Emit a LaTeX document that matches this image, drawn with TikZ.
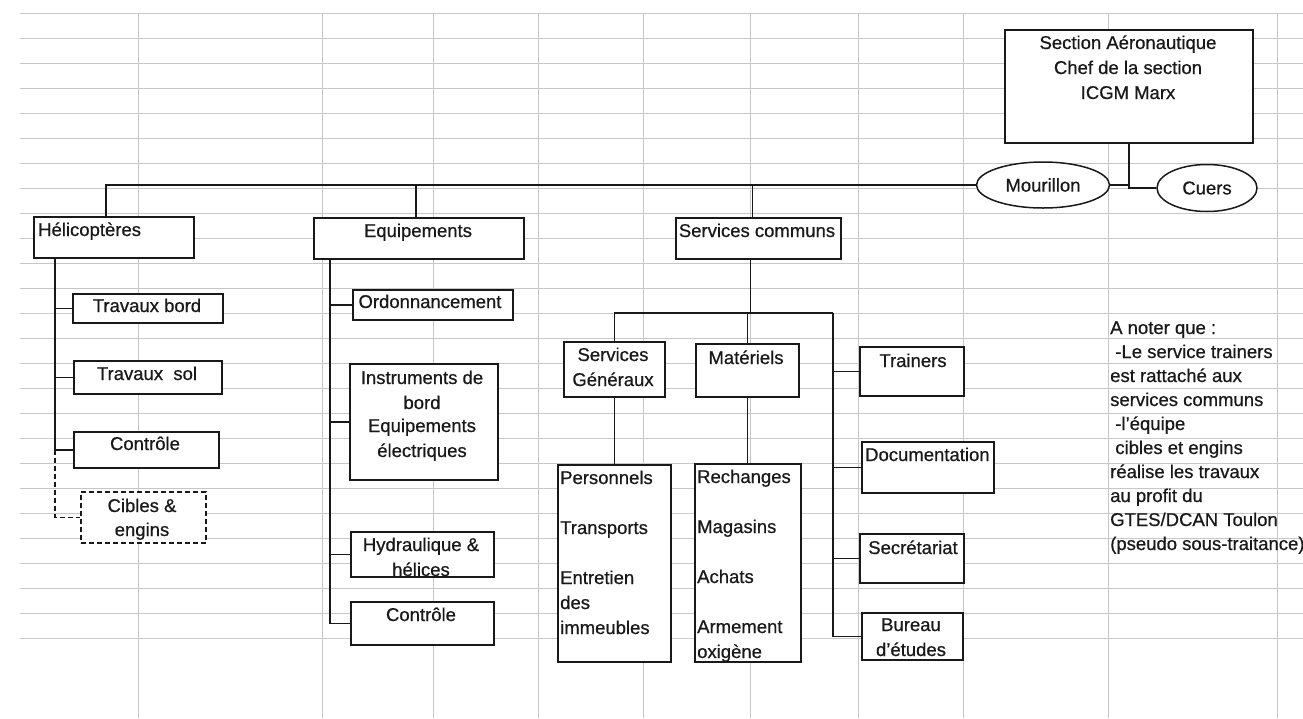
\documentclass[tikz,border=0pt]{standalone}
\usepackage{fontspec}
\setmainfont{Liberation Sans}[FakeBold=0.6]
\usetikzlibrary{shapes.geometric}
\begin{document}
\begin{tikzpicture}[x=1pt,y=-1pt,
  gridline/.style={draw=black!22, line width=0.9pt},
  box/.style={draw=black!90, line width=1.6pt, fill=white, rectangle, inner sep=0pt, anchor=north west},
  dbox/.style={box, dash pattern=on 5pt off 3pt},
  oval/.style={draw=black!90, line width=1.5pt, fill=white, ellipse, inner sep=0pt, font=\fontsize{18.5}{22}\selectfont, text=black!90},
  link/.style={draw=black!90, line width=1.5pt},
  dlink/.style={link, dash pattern=on 5pt off 3pt},
  txt/.style={inner sep=0pt, anchor=base, font=\fontsize{18.5}{22}\selectfont, text=black!90},
  ltxt/.style={txt, anchor=base west}]

\useasboundingbox[fill=white] (0,0) rectangle (1303,718);

% spreadsheet grid
\foreach \y in {13,38,...,638} \draw[gridline] (20,\y) -- (1303,\y);
\foreach \x in {138,322,433,538,643,750,858,963,1108,1277} \draw[gridline] (\x,13) -- (\x,718);

% top
\node[box, minimum width=248pt, minimum height=113pt] (sec) at (1004,29) {};
\node[txt] at (1128,49) {Section Aéronautique};
\node[txt] at (1128,74) {Chef de la section};
\node[txt] at (1128,99) {ICGM Marx};
\node[oval, minimum width=133pt, minimum height=46pt] (mou) at (1043,185) {Mourillon};
\node[oval, minimum width=100pt, minimum height=47pt] (cue) at (1207,188) {Cuers};

% level 1
\node[box, minimum width=160pt, minimum height=41pt] (hel) at (33,216) {};
\node[ltxt] at (38,236) {Hélicoptères};
\node[box, minimum width=210pt, minimum height=41pt] (eq) at (313,217) {};
\node[txt] at (418,237) {Equipements};
\node[box, minimum width=165pt, minimum height=41pt] (sc) at (675,217) {};
\node[txt] at (757,237) {Services communs};

% Helicopteres
\node[box, minimum width=150pt, minimum height=29pt] (tb) at (72,293) {};
\node[txt] at (147,312) {Travaux bord};
\node[box, minimum width=148pt, minimum height=33pt] (ts) at (73,360) {};
\node[txt] at (147,380) {Travaux\ \ sol};
\node[box, minimum width=145pt, minimum height=36pt] (hc) at (73,431) {};
\node[txt] at (145,450) {Contrôle};
\node[dbox, minimum width=125pt, minimum height=51pt] (ce) at (80,491) {};
\node[txt] at (142,512) {Cibles \&};
\node[txt] at (142,536) {engins};

% Equipements
\node[box, minimum width=160pt, minimum height=30pt] (ord) at (352,289) {};
\node[txt] at (430,308) {Ordonnancement};
\node[box, minimum width=148pt, minimum height=116pt] (ins) at (349,363) {};
\node[txt] at (422,384) {Instruments de};
\node[txt] at (422,409) {bord};
\node[txt] at (422,432) {Equipements};
\node[txt] at (422,457) {électriques};
\node[box, minimum width=143pt, minimum height=45pt] (hyd) at (350,531) {};
\node[txt] at (421,551) {Hydraulique \&};
\node[txt] at (421,576) {hélices};
\node[box, minimum width=143pt, minimum height=43pt] (ec) at (350,601) {};
\node[txt] at (421,621) {Contrôle};

% Services communs
\node[box, minimum width=101pt, minimum height=55pt] (sg) at (563,341) {};
\node[txt] at (613,361) {Services};
\node[txt] at (613,386) {Généraux};
\node[box, minimum width=103pt, minimum height=53pt] (mat) at (695,343) {};
\node[txt] at (746,364) {Matériels};
\node[box, minimum width=113pt, minimum height=197pt] (pers) at (557,464) {};
\node[ltxt] at (560,484) {Personnels};
\node[ltxt] at (560,534) {Transports};
\node[ltxt] at (560,584) {Entretien};
\node[ltxt] at (560,609) {des};
\node[ltxt] at (560,634) {immeubles};
\node[box, minimum width=106pt, minimum height=198pt] (rech) at (694,463) {};
\node[ltxt] at (697,483) {Rechanges};
\node[ltxt] at (697,533) {Magasins};
\node[ltxt] at (697,583) {Achats};
\node[ltxt] at (697,633) {Armement};
\node[ltxt] at (697,658) {oxigène};
\node[box, minimum width=104pt, minimum height=49pt] (tr) at (859,346) {};
\node[txt] at (913,367) {Trainers};
\node[box, minimum width=132pt, minimum height=51pt] (doc) at (861,441) {};
\node[ltxt] at (865,461) {Documentation};
\node[box, minimum width=104pt, minimum height=49pt] (secr) at (859,533) {};
\node[txt] at (913,554) {Secrétariat};
\node[box, minimum width=101pt, minimum height=47pt] (bur) at (861,612) {};
\node[txt] at (911,631) {Bureau};
\node[txt] at (911,656) {d'études};

% note
\node[ltxt] at (1110,334) {A noter que :};
\node[ltxt] at (1110,358) {\ -Le service trainers};
\node[ltxt] at (1110,382) {est rattaché aux};
\node[ltxt] at (1110,406) {services communs};
\node[ltxt] at (1110,430) {\ -l'équipe};
\node[ltxt] at (1110,454) {\ cibles et engins};
\node[ltxt] at (1110,478) {réalise les travaux};
\node[ltxt] at (1110,502) {au profit du};
\node[ltxt] at (1110,526) {GTES/DCAN Toulon};
\node[ltxt] at (1110,550) {(pseudo sous-traitance)};

% connectors
\draw[link] ([xshift=73pt]hel.north west) |- (mou.west);
\draw[link] ([xshift=-3pt]eq.north) -- ([xshift=-3pt]eq.north |- mou.west);
\draw[link] ([xshift=-6pt]sc.north) -- ([xshift=-6pt]sc.north |- mou.west);
\draw[link] (sec.south) |- (mou.east);
\draw[link] (sec.south |- mou.east) |- (cue.west);

\coordinate (helspine) at ([xshift=22pt]hel.south west);
\draw[link] (helspine) |- (tb.west);
\draw[link] (helspine) |- (ts.west);
\draw[link] (helspine) |- (hc.west);
\draw[dlink] (helspine |- hc.west) |- (ce.west);

\coordinate (eqspine) at ([xshift=17pt]eq.south west);
\draw[link] (eqspine) |- (ord.west);
\draw[link] (eqspine) |- (ins.west);
\draw[link] (eqspine) |- (hyd.west);
\draw[link] (eqspine) |- (ec.west);

\coordinate (scr) at (833,313);
\coordinate (scj) at ([xshift=-8pt]sc.south |- scr);
\draw[link] ([xshift=-8pt]sc.south) -- (scj);
\draw[link] (sg.north) |- (scr);
\draw[link] (mat.north) -- (mat.north |- scr);
\draw[link] (scr) |- (bur.west);
\draw[link] (scr |- tr.west) -- (tr.west);
\draw[link] (scr |- doc.west) -- (doc.west);
\draw[link] (scr |- secr.west) -- (secr.west);
\draw[link] (sg.south) -- (pers.north);
\draw[link] (mat.south) -- (mat.south |- rech.north);
\end{tikzpicture}
\end{document}
